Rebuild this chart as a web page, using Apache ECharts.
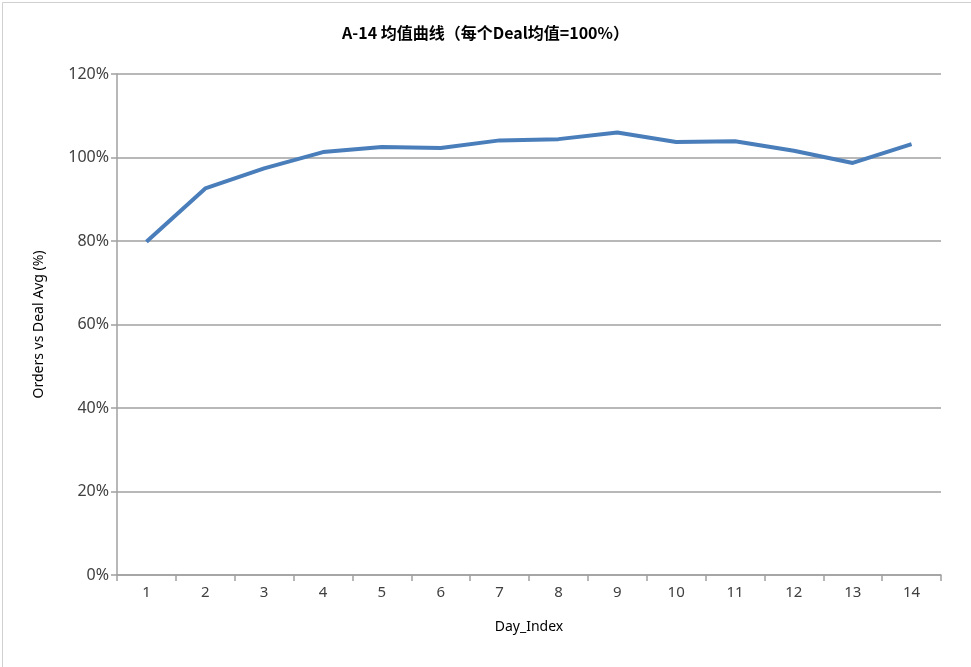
<!DOCTYPE html>
<html>
<head>
<meta charset="utf-8">
<script src="https://cdn.jsdelivr.net/npm/echarts@6/dist/echarts.min.js"></script>
<style>
html,body{margin:0;padding:0;background:#fff;}
#c{width:971px;height:667px;}
</style>
</head>
<body>
<div id="c"></div>
<script>
var categories = ['1','2','3','4','5','6','7','8','9','10','11','12','13','14'];
var values = [79.8, 92.6, 97.4, 101.3, 102.5, 102.3, 104.1, 104.4, 106.0, 103.7, 103.9, 101.6, 98.7, 103.2];
var yTicks = [0, 20, 40, 60, 80, 100, 120];

var chart = echarts.init(document.getElementById('c'));
var font = '"Noto Sans", "Noto Sans CJK SC", sans-serif';
chart.setOption({
  animation: false,
  backgroundColor: '#fff',
  graphic: [{
    type: 'rect', left: 0, top: 0,
    shape: {x: 0.5, y: 0.5, width: 969, height: 665},
    style: {fill: 'none', stroke: '#d0d0d0', lineWidth: 1}
  }],
  title: {
    text: 'A-14 均值曲线（每个Deal均值=100%）',
    left: 'center', top: 20,
    textStyle: {fontFamily: '"Noto Sans CJK SC", sans-serif', fontSize: 16, fontWeight: 'bold', color: '#000'}
  },
  grid: {left: 117, right: 30, top: 74, bottom: 92},
  xAxis: {
    type: 'category',
    data: categories,
    boundaryGap: true,
    name: 'Day_Index',
    nameLocation: 'middle',
    nameGap: 45,
    nameTextStyle: {fontFamily: font, fontSize: 14, color: '#000'},
    axisLine: {lineStyle: {color: '#a0a0a0', width: 1.5}},
    axisTick: {show: true, length: 6, lineStyle: {color: '#a0a0a0', width: 1.5}, alignWithLabel: false},
    axisLabel: {fontFamily: font, fontSize: 15, color: '#404040', margin: 10},
    splitLine: {show: false}
  },
  yAxis: {
    type: 'value',
    min: 0, max: 120, interval: 20,
    name: 'Orders vs Deal Avg (%)',
    nameLocation: 'middle',
    nameGap: 71,
    nameRotate: 90,
    nameTextStyle: {fontFamily: font, fontSize: 14, color: '#000'},
    axisLine: {show: true, lineStyle: {color: '#a0a0a0', width: 1.5}},
    axisTick: {show: true, length: 6, lineStyle: {color: '#a0a0a0', width: 1.5}},
    axisLabel: {fontFamily: font, fontSize: 16, color: '#404040', margin: 8,
      formatter: function(v){ return yTicks.indexOf(v) >= 0 ? v + '%' : ''; }},
    splitLine: {show: true, lineStyle: {color: '#a0a0a0', width: 1.5}}
  },
  series: [{
    type: 'line',
    data: values,
    symbol: 'none',
    lineStyle: {color: '#4a7ebb', width: 4},
    itemStyle: {color: '#4a7ebb'}
  }]
});
</script>
</body>
</html>
